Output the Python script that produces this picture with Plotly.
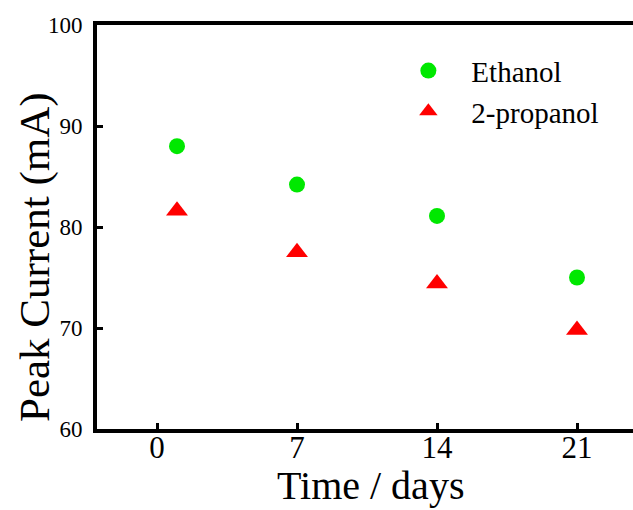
import plotly.graph_objects as go

days = [1, 7, 14, 21]
ethanol = [88.0, 84.2, 81.1, 75.0]
propanol = [81.6, 77.5, 74.4, 69.8]
x_ticks = [0, 7, 14, 21]
y_ticks = [60, 70, 80, 90, 100]

FONT = "Liberation Serif, Times New Roman, serif"

fig = go.Figure()
fig.add_trace(go.Scatter(x=days, y=ethanol, mode="markers", name="Ethanol",
                         marker=dict(symbol="circle", size=16, color="#00e800")))
fig.add_trace(go.Scatter(x=days, y=propanol, mode="markers", name="2-propanol",
                         marker=dict(symbol="triangle-up", size=19, color="#ff0000")))

fig.update_layout(
    width=633, height=510,
    margin=dict(l=97, r=0, t=25, b=81),
    paper_bgcolor="white", plot_bgcolor="white",
    font=dict(family=FONT, color="black"),
    showlegend=True,
    legend=dict(x=0.538, y=0.95, xanchor="left", yanchor="top",
                font=dict(size=29, family=FONT), bgcolor="rgba(0,0,0,0)",
                itemwidth=76, tracegroupgap=0),
    xaxis=dict(range=[-3, 23.8], tickvals=x_ticks, ticks="inside", ticklen=6, tickwidth=3,
               tickcolor="black", showline=True, linewidth=4, linecolor="black",
               mirror=True, showgrid=False, zeroline=False,
               tickfont=dict(size=31, family=FONT), ticklabelstandoff=-12),
    yaxis=dict(range=[60, 100], tickvals=y_ticks, ticks="inside", ticklen=6, tickwidth=3,
               tickcolor="black", showline=True, linewidth=4, linecolor="black",
               mirror=False, showgrid=False, zeroline=False,
               tickfont=dict(size=23, family=FONT), ticklabelstandoff=6),
    annotations=[
        dict(text="Time / days", xref="paper", yref="paper", x=(370 - 97) / 536, y=0,
             xanchor="center", yanchor="middle", yshift=-56, showarrow=False,
             font=dict(size=40, family=FONT, color="black")),
        dict(text="Peak Current (mA)", xref="paper", yref="paper", x=0, y=(429 - 257) / 404,
             xanchor="center", yanchor="middle", xshift=-62, textangle=-90, showarrow=False,
             font=dict(size=43, family=FONT, color="black")),
    ],
)

fig.write_html("out.html", config={"displayModeBar": False},
               post_script="document.body.style.margin='0';document.body.style.overflow='hidden';")
